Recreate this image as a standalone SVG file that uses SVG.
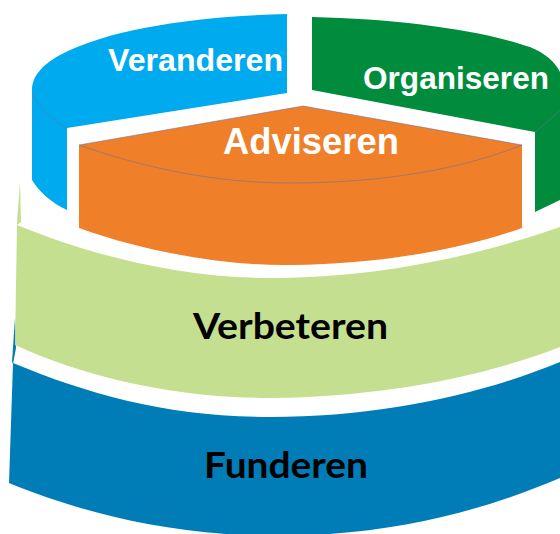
<svg xmlns="http://www.w3.org/2000/svg" width="560" height="534" viewBox="0 0 560 534">
  <style>
    .lbl-w { font-family: "Liberation Sans", Arial, sans-serif; font-weight: bold; fill: #ffffff; }
    .lbl-k { font-family: Lato, "Open Sans", "Liberation Sans", sans-serif; font-weight: bold; fill: #000000; }
    .edge { fill: none; stroke: #6b6f9e; stroke-width: 0.8; stroke-opacity: 0.7; }
  </style>
  <rect width="560" height="534" fill="#ffffff"/>

  <g id="funderen">
    <polygon points="15,318 16,348 13,364 12,362" fill="#007DB6"/>
    <path d="M13,363 C90,395 170,417 270,417 C380,417 480,395 560,362 L560,478 C480,512 390,535 280,536 C170,536 80,512 9,483 Z" fill="#007DB6"/>
    <text class="lbl-k" x="204" y="478" font-size="36" textLength="164" lengthAdjust="spacingAndGlyphs">Funderen</text>
  </g>

  <g id="verbeteren">
    <polygon points="20,182 21,222 17,225 17,222" fill="#C4DF90"/>
    <path d="M17,225 C90,255 180,278 270,278 C380,278 480,255 560,227 L560,347 C480,378 380,397 270,398 C170,398 80,375 15,345 Z" fill="#C4DF90"/>
    <text class="lbl-k" x="193" y="339" font-size="36" textLength="195" lengthAdjust="spacingAndGlyphs">Verbeteren</text>
  </g>

  <g id="veranderen">
    <path d="M287,14 C200,16 110,28 60,55 C40,66 32,78 32,90 L32,180 C40,193 52,203 67,210 L67,128 L287,93 Z" fill="#00AAEF"/>
    <path class="edge" d="M32,94 C40,108 52,120 67,128" stroke="#9fd6f5"/>
    <text class="lbl-w" x="108" y="71" font-size="32" textLength="175" lengthAdjust="spacingAndGlyphs">Veranderen</text>
  </g>

  <g id="organiseren">
    <path d="M312,17 C400,19 480,30 530,47 C545,53 555,62 560,72 L560,200 L535,212 L535,132 L312,90 Z" fill="#008C3C"/>
    <path class="edge" d="M535,132 C545,124 553,117 560,110" stroke="#5fb07d"/>
    <text class="lbl-w" x="363" y="89" font-size="31.5" textLength="186" lengthAdjust="spacingAndGlyphs">Organiseren</text>
  </g>

  <g id="adviseren">
    <path d="M79,145 L303,106 L522,145 L522,228 C460,250 380,264 290,265 C220,266 140,250 79,228 Z" fill="#EF7F29"/>
    <path class="edge" d="M79,145 L303,106 L522,145"/>
    <path class="edge" d="M79,145 C150,170 220,183 290,183 C380,183 460,170 522,145"/>
    <text class="lbl-w" x="223" y="154" font-size="36" textLength="176" lengthAdjust="spacingAndGlyphs">Adviseren</text>
  </g>
</svg>
